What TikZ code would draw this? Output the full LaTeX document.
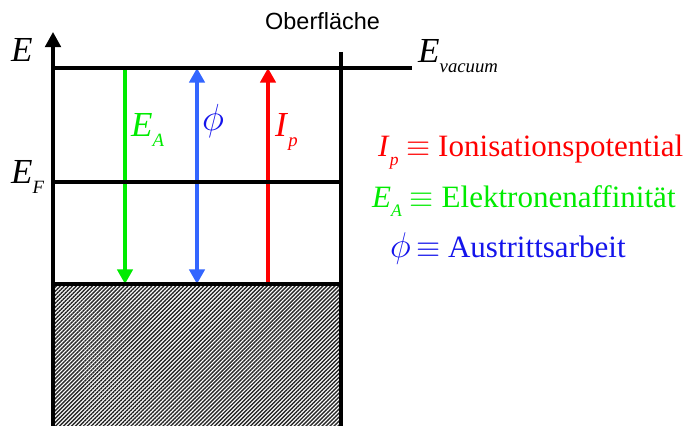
\RequirePackage{fix-cm}
\documentclass[tikz,border=0pt]{standalone}
\usepackage{fontspec}
\setmainfont{Liberation Serif}
\newfontfamily\arialfont{Liberation Sans}
\usetikzlibrary{arrows.meta, positioning, patterns.meta}
\definecolor{ipred}{RGB}{255,0,0}
\definecolor{eagreen}{RGB}{0,235,0}
\definecolor{phiblue}{RGB}{51,102,255}
\definecolor{phitext}{RGB}{20,20,235}

% Symbol mit tiefgestelltem Index
\newcommand\symidx[3][16]{\textit{#2}\raisebox{-0.26em}{\fontsize{#1}{#1}\selectfont\textit{#3}}}
\newcommand\bigphi[1][1.4]{\scalebox{#1}{$\phi$}}

\tikzset{
  level/.style={line width=2.6pt},
  trans/.style={line width=3.2pt, -{Triangle[width=13pt,length=12.5pt]}},
  bigsym/.style={font=\fontsize{30}{32}\selectfont, inner sep=0pt, anchor=base west},
  legend/.style={font=\fontsize{26.5}{30}\selectfont, inner sep=0pt, anchor=base west},
}

\begin{document}
\begin{tikzpicture}[x=0.03cm, y=-0.03cm]
   \useasboundingbox (0,0) rectangle (693,426);

   % Festkoerper: besetzte Zustaende
   \fill[pattern={Lines[angle=45,distance=2.4pt,line width=1.2pt]}, pattern color=black!85]
      (53,284) rectangle (341,426);

   % Punkte
   \coordinate (axbot) at (53,426);
   \coordinate (axtop) at (53,32);
   \coordinate (vacL) at (53,68);
   \coordinate (vacR) at (412,68);
   \coordinate (fermiL) at (53,182);
   \coordinate (fermiR) at (341,182);
   \coordinate (bandL) at (53,284);
   \coordinate (bandR) at (341,284);
   \coordinate (surfT) at (341,52);
   \coordinate (surfB) at (341,426);

   \coordinate (ea1) at (125,68);
   \coordinate (ea2) at (125,284);
   \coordinate (phi1) at (197,68);
   \coordinate (phi2) at (197,284);
   \coordinate (ip1) at (268,284);
   \coordinate (ip2) at (268,68);

   % Uebergaenge
   \path[trans]
    (ea1) edge[eagreen] (ea2)
    (phi1) edge[phiblue, {Triangle[width=13pt,length=12.5pt]}-{Triangle[width=13pt,length=12.5pt]}] (phi2)
    (ip1) edge[ipred] (ip2)
    ;

   % Niveaus und Oberflaeche
   \draw[level, -{Triangle[width=13.5pt,length=13pt]}] (axbot) -- (axtop);
   \draw[level] (vacL) -- (vacR);
   \draw[level] (fermiL) -- (fermiR);
   \draw[level] (bandL) -- (bandR);
   \draw[level] (surfT) -- (surfB);

   % Beschriftungen
   \node[bigsym] (lE) at (11,62) {\textit{E}};
   \node[bigsym] (lEF) at (11,184) {\symidx{E}{F}};
   \node[bigsym] (lEvac) at (418,63) {\symidx{E}{vacuum}};
   \node[font=\arialfont\fontsize{20}{22}\selectfont, inner sep=0pt, anchor=base west] (surf) at (265,30) {Oberfläche};

   \node[bigsym, eagreen] (lEA) at (131,137) {\symidx{E}{A}};
   \node[bigsym, phitext, font=\fontsize{23}{25}\selectfont] (lphi) at (202,131) {\bigphi};
   \node[bigsym, ipred] (lIp) at (275,137) {\symidx{I}{p}};

   % Legende
   \node[legend, ipred] (legIp) at (378,157) {\symidx[15]{I}{p} $\equiv$ Ionisationspotential};
   \node[legend, eagreen] (legEA) at (372,208) {\symidx[15]{E}{A} $\equiv$ Elektronenaffinität};
   \node[legend, phitext] (legphi) at (390,257) {\bigphi[1.15]\,$\equiv$ Austrittsarbeit};
\end{tikzpicture}
\end{document}
